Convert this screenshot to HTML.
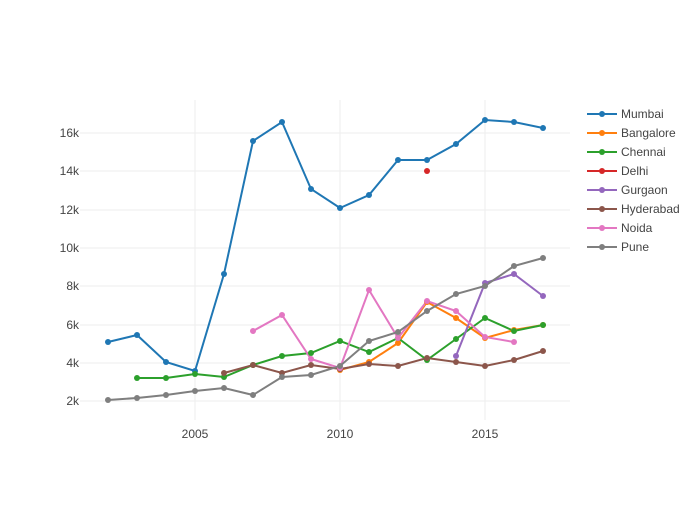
<!DOCTYPE html>
<html><head><style>body{margin:0;background:#fff}svg{font-family:"Liberation Sans",sans-serif}</style></head><body>
<svg width="700" height="500" xmlns="http://www.w3.org/2000/svg">
<g stroke="#eee" stroke-width="1">
<line x1="80" x2="570" y1="401" y2="401"/><line x1="80" x2="570" y1="363" y2="363"/><line x1="80" x2="570" y1="325" y2="325"/><line x1="80" x2="570" y1="286" y2="286"/><line x1="80" x2="570" y1="248" y2="248"/><line x1="80" x2="570" y1="210" y2="210"/><line x1="80" x2="570" y1="171" y2="171"/><line x1="80" x2="570" y1="133" y2="133"/>
<line x1="195" x2="195" y1="100" y2="420"/><line x1="340" x2="340" y1="100" y2="420"/><line x1="485" x2="485" y1="100" y2="420"/>
</g>
<g font-size="12" fill="#444" text-anchor="end">
<text x="79" y="405">2k</text><text x="79" y="367">4k</text><text x="79" y="329">6k</text><text x="79" y="290">8k</text><text x="79" y="252">10k</text><text x="79" y="214">12k</text><text x="79" y="175">14k</text><text x="79" y="137">16k</text>
</g>
<g font-size="12" fill="#444" text-anchor="middle">
<text x="195" y="438">2005</text><text x="340" y="438">2010</text><text x="485" y="438">2015</text>
</g>
<g fill="none" stroke-width="2">
<polyline stroke="#1f77b4" points="108,342 137,335 166,362 195,371 224,274 253,141 282,122 311,189 340,208 369,195 398,160 427,160 456,144 485,120 514,122 543,128"/>
<polyline stroke="#ff7f0e" points="340,370 369,362 398,343 427,302 456,318 485,338 514,330 543,325"/>
<polyline stroke="#2ca02c" points="137,378 166,378 195,374 224,377 253,365 282,356 311,353 340,341 369,352 398,338 427,360 456,339 485,318 514,331 543,325"/>
<polyline stroke="#9467bd" points="456,356 485,283 514,274 543,296"/>
<polyline stroke="#8c564b" points="224,373 253,365 282,373 311,365 340,369 369,364 398,366 427,358 456,362 485,366 514,360 543,351"/>
<polyline stroke="#e377c2" points="253,331 282,315 311,359 340,368 369,290 398,338 427,301 456,311 485,337 514,342"/>
<polyline stroke="#7f7f7f" points="108,400 137,398 166,395 195,391 224,388 253,395 282,377 311,375 340,366 369,341 398,332 427,311 456,294 485,286 514,266 543,258"/>
</g>
<g id="pts"></g>
<g font-size="12" fill="#444">
<g transform="translate(587,114)"><line x1="0" x2="30" stroke="#1f77b4" stroke-width="2"/><circle cx="15" r="3" fill="#1f77b4"/><text x="34" y="4">Mumbai</text></g>
<g transform="translate(587,133)"><line x1="0" x2="30" stroke="#ff7f0e" stroke-width="2"/><circle cx="15" r="3" fill="#ff7f0e"/><text x="34" y="4">Bangalore</text></g>
<g transform="translate(587,152)"><line x1="0" x2="30" stroke="#2ca02c" stroke-width="2"/><circle cx="15" r="3" fill="#2ca02c"/><text x="34" y="4">Chennai</text></g>
<g transform="translate(587,171)"><line x1="0" x2="30" stroke="#d62728" stroke-width="2"/><circle cx="15" r="3" fill="#d62728"/><text x="34" y="4">Delhi</text></g>
<g transform="translate(587,190)"><line x1="0" x2="30" stroke="#9467bd" stroke-width="2"/><circle cx="15" r="3" fill="#9467bd"/><text x="34" y="4">Gurgaon</text></g>
<g transform="translate(587,209)"><line x1="0" x2="30" stroke="#8c564b" stroke-width="2"/><circle cx="15" r="3" fill="#8c564b"/><text x="34" y="4">Hyderabad</text></g>
<g transform="translate(587,228)"><line x1="0" x2="30" stroke="#e377c2" stroke-width="2"/><circle cx="15" r="3" fill="#e377c2"/><text x="34" y="4">Noida</text></g>
<g transform="translate(587,247)"><line x1="0" x2="30" stroke="#7f7f7f" stroke-width="2"/><circle cx="15" r="3" fill="#7f7f7f"/><text x="34" y="4">Pune</text></g>
</g>
<g fill="#1f77b4"><circle cx="108" cy="342" r="3"/><circle cx="137" cy="335" r="3"/><circle cx="166" cy="362" r="3"/><circle cx="195" cy="371" r="3"/><circle cx="224" cy="274" r="3"/><circle cx="253" cy="141" r="3"/><circle cx="282" cy="122" r="3"/><circle cx="311" cy="189" r="3"/><circle cx="340" cy="208" r="3"/><circle cx="369" cy="195" r="3"/><circle cx="398" cy="160" r="3"/><circle cx="427" cy="160" r="3"/><circle cx="456" cy="144" r="3"/><circle cx="485" cy="120" r="3"/><circle cx="514" cy="122" r="3"/><circle cx="543" cy="128" r="3"/></g>
<g fill="#ff7f0e"><circle cx="340" cy="370" r="3"/><circle cx="369" cy="362" r="3"/><circle cx="398" cy="343" r="3"/><circle cx="427" cy="302" r="3"/><circle cx="456" cy="318" r="3"/><circle cx="485" cy="338" r="3"/><circle cx="514" cy="330" r="3"/><circle cx="543" cy="325" r="3"/></g>
<g fill="#2ca02c"><circle cx="137" cy="378" r="3"/><circle cx="166" cy="378" r="3"/><circle cx="195" cy="374" r="3"/><circle cx="224" cy="377" r="3"/><circle cx="253" cy="365" r="3"/><circle cx="282" cy="356" r="3"/><circle cx="311" cy="353" r="3"/><circle cx="340" cy="341" r="3"/><circle cx="369" cy="352" r="3"/><circle cx="398" cy="338" r="3"/><circle cx="427" cy="360" r="3"/><circle cx="456" cy="339" r="3"/><circle cx="485" cy="318" r="3"/><circle cx="514" cy="331" r="3"/><circle cx="543" cy="325" r="3"/></g>
<circle cx="427" cy="171" r="3" fill="#d62728"/>
<g fill="#9467bd"><circle cx="456" cy="356" r="3"/><circle cx="485" cy="283" r="3"/><circle cx="514" cy="274" r="3"/><circle cx="543" cy="296" r="3"/></g>
<g fill="#8c564b"><circle cx="224" cy="373" r="3"/><circle cx="253" cy="365" r="3"/><circle cx="282" cy="373" r="3"/><circle cx="311" cy="365" r="3"/><circle cx="340" cy="369" r="3"/><circle cx="369" cy="364" r="3"/><circle cx="398" cy="366" r="3"/><circle cx="427" cy="358" r="3"/><circle cx="456" cy="362" r="3"/><circle cx="485" cy="366" r="3"/><circle cx="514" cy="360" r="3"/><circle cx="543" cy="351" r="3"/></g>
<g fill="#e377c2"><circle cx="253" cy="331" r="3"/><circle cx="282" cy="315" r="3"/><circle cx="311" cy="359" r="3"/><circle cx="340" cy="368" r="3"/><circle cx="369" cy="290" r="3"/><circle cx="398" cy="338" r="3"/><circle cx="427" cy="301" r="3"/><circle cx="456" cy="311" r="3"/><circle cx="485" cy="337" r="3"/><circle cx="514" cy="342" r="3"/></g>
<g fill="#7f7f7f"><circle cx="108" cy="400" r="3"/><circle cx="137" cy="398" r="3"/><circle cx="166" cy="395" r="3"/><circle cx="195" cy="391" r="3"/><circle cx="224" cy="388" r="3"/><circle cx="253" cy="395" r="3"/><circle cx="282" cy="377" r="3"/><circle cx="311" cy="375" r="3"/><circle cx="340" cy="366" r="3"/><circle cx="369" cy="341" r="3"/><circle cx="398" cy="332" r="3"/><circle cx="427" cy="311" r="3"/><circle cx="456" cy="294" r="3"/><circle cx="485" cy="286" r="3"/><circle cx="514" cy="266" r="3"/><circle cx="543" cy="258" r="3"/></g>
</svg>
</body></html>
